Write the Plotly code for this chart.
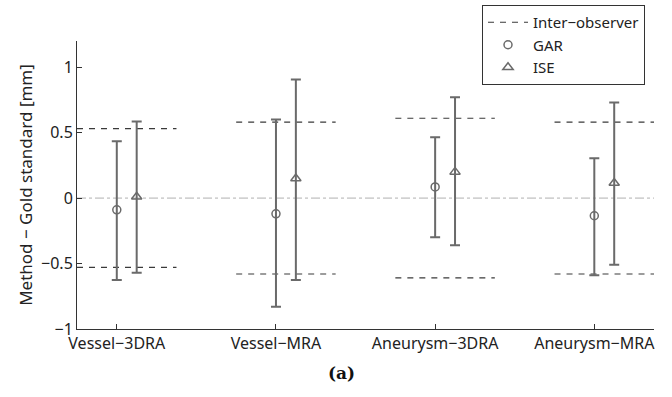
import plotly.graph_objects as go

categories = ["Vessel−3DRA", "Vessel−MRA", "Aneurysm−3DRA", "Aneurysm−MRA"]
inter_observer = [0.53, 0.58, 0.61, 0.58]
gar_mean = [-0.09, -0.12, 0.085, -0.135]
gar_hi = [0.435, 0.60, 0.465, 0.305]
gar_lo = [-0.625, -0.83, -0.30, -0.59]
ise_mean = [0.01, 0.15, 0.20, 0.115]
ise_hi = [0.585, 0.905, 0.77, 0.73]
ise_lo = [-0.57, -0.625, -0.36, -0.51]
yticks = [-1, -0.5, 0, 0.5, 1]
yticklabels = ["−1", "−0.5", "0", "0.5", "1"]

pos = [i + 1 for i in range(len(categories))]
ise_off = 0.125
gray = "#6a6a6a"
font = "Noto Sans"

fig = go.Figure()

# zero dash-dot line
fig.add_trace(go.Scatter(x=[0.75, 4.375], y=[0, 0], mode="lines",
                         line=dict(color="#b0b0b0", width=1, dash="dashdot"),
                         showlegend=False, hoverinfo="skip"))

# inter-observer dashed lines
lx, ly = [], []
for p, v in zip(pos, inter_observer):
    for s in (1, -1):
        lx += [p - 0.25, p + 0.375, None]
        ly += [s * v, s * v, None]
fig.add_trace(go.Scatter(x=lx, y=ly, mode="lines", name="Inter−observer",
                         line=dict(color="#3a3a3a", width=1.2, dash="6px,6px")))

fig.add_trace(go.Scatter(
    x=pos, y=gar_mean, mode="markers", name="GAR",
    marker=dict(symbol="circle-open", size=8, color=gray, line=dict(width=1.5)),
    error_y=dict(type="data", symmetric=False,
                 array=[h - m for h, m in zip(gar_hi, gar_mean)],
                 arrayminus=[m - l for l, m in zip(gar_lo, gar_mean)],
                 color=gray, thickness=2, width=5)))

fig.add_trace(go.Scatter(
    x=[p + ise_off for p in pos], y=ise_mean, mode="markers", name="ISE",
    marker=dict(symbol="triangle-up-open", size=9, color=gray, line=dict(width=1.5)),
    error_y=dict(type="data", symmetric=False,
                 array=[h - m for h, m in zip(ise_hi, ise_mean)],
                 arrayminus=[m - l for l, m in zip(ise_lo, ise_mean)],
                 color=gray, thickness=2, width=5)))

fig.update_layout(
    width=672, height=397,
    margin=dict(l=77, r=18, t=41, b=68, autoexpand=False),
    plot_bgcolor="white", paper_bgcolor="white",
    font=dict(family=font, size=16, color="#222"),
    xaxis=dict(range=[0.75, 4.375], tickvals=pos, ticktext=categories,
               showgrid=False, zeroline=False, showline=True, linecolor="#333",
               linewidth=1, ticks="inside", ticklen=5, tickcolor="#333",
               tickfont=dict(size=16)),
    yaxis=dict(range=[-1, 1.2], tickvals=yticks, ticktext=yticklabels,
               showgrid=False, zeroline=False, showline=True, linecolor="#333",
               linewidth=1, ticks="inside", ticklen=5, tickcolor="#333",
               tickfont=dict(size=16),
               title=dict(text="Method − Gold standard [mm]", font=dict(size=17), standoff=4)),
    legend=dict(xref="container", yref="container", x=482 / 672, y=1 - 5 / 397,
                xanchor="left", yanchor="top",
                bordercolor="#333", borderwidth=1, bgcolor="white",
                font=dict(size=15), tracegroupgap=0, itemwidth=40),
    showlegend=True,
)

fig.add_annotation(text="<b>(a)</b>", xref="paper", yref="paper", x=0.459, y=-0.11,
                   xanchor="center", yanchor="top", showarrow=False,
                   font=dict(family="DejaVu Serif", size=17, color="#111"))

fig.write_html("out.html")
